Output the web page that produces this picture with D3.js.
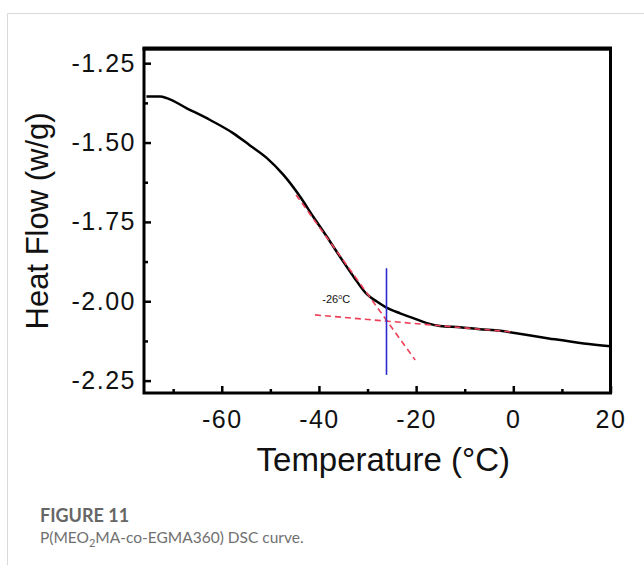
<!DOCTYPE html>
<html>
<head>
  <meta charset="utf-8">
  <title>P(MEO2MA-co-EGMA360) DSC curve</title>
  <style type="text/css">
    body { margin: 0; background: #fff; }
    .tick text { font-family: "Liberation Sans", Arial, sans-serif; letter-spacing: 1.5px; }
    .caption { font-family: Lato, "Open Sans", sans-serif; }
  </style>
</head>
<body>
  <svg width="644" height="565"></svg>
  <script src="https://d3js.org/d3.v7.min.js"></script>
  <script>
    // data
    var temp = [-75.5, -72.7, -71.3, -67.2, -62.4, -57.6, -54.2, -50.7, -47.3, -43.9, -41.2, -38.4, -35.7,
      -32.9, -30.2, -28.1, -26.2, -23.3, -20.6, -17.8, -15.1, -11.0, -6.9, -2.7, 0.3, 7.3, 14.5, 20];
    var heatFlow = [-1.355, -1.355, -1.360, -1.392, -1.429, -1.471, -1.509, -1.549, -1.602, -1.670, -1.733,
      -1.796, -1.859, -1.922, -1.977, -2.001, -2.019, -2.038, -2.053, -2.069, -2.078, -2.082, -2.088,
      -2.093, -2.100, -2.117, -2.133, -2.142];
    var xTicks = [-60, -40, -20, 0, 20];
    var xMinor = [-70, -50, -30, -10, 10];
    var yTicks = [-1.25, -1.50, -1.75, -2.00, -2.25];
    var yMinor = [-1.375, -1.625, -1.875, -2.125];
    // tangent construction lines (temperature, heat flow)
    var tangentFlat = [[-40.8, -2.043], [0, -2.097]];
    var tangentSteep = [[-44.7, -1.665], [-20.2, -2.185]];
    var tgLine = [[-26.1, -1.896], [-26.1, -2.232]];
    var tgLabel = "-26";

    var svg = d3.select("svg");

    // 1. card frame
    svg.append("path")
      .attr("d", "M7.5,565 V13.5 H644")
      .attr("fill", "none")
      .attr("stroke", "#d9d9d9")
      .attr("stroke-width", 1);

    // 2. scales
    var x = d3.scaleLinear().domain([-76, 20]).range([144, 610.5]);
    var y = d3.scaleLinear().domain([-1.205, -2.289]).range([48.9, 393]);

    var plotL = x(-76), plotR = x(20), plotT = y(-1.205), plotB = y(-2.289);

    // 3. axes (ticks point inside)
    svg.append("g")
      .attr("transform", "translate(0," + plotB + ")")
      .call(d3.axisBottom(x).tickValues(xTicks).tickSize(-7).tickPadding(17)
        .tickFormat(function (d) { return String(d); }));
    svg.append("g")
      .attr("transform", "translate(0," + plotB + ")")
      .call(d3.axisBottom(x).tickValues(xMinor).tickSize(-4).tickFormat(""));

    svg.append("g")
      .attr("transform", "translate(" + plotL + ",0)")
      .call(d3.axisLeft(y).tickValues(yTicks).tickSize(-7).tickPadding(8)
        .tickFormat(function (d) { return d.toFixed(2); }));
    svg.append("g")
      .attr("transform", "translate(" + plotL + ",0)")
      .call(d3.axisLeft(y).tickValues(yMinor).tickSize(-4).tickFormat(""));

    svg.selectAll(".domain").remove();
    svg.selectAll(".tick line").attr("stroke", "#000").attr("stroke-width", 2.5);
    svg.selectAll(".tick text").attr("font-size", 25).attr("fill", "#111");

    // 4. plot frame
    svg.append("rect")
      .attr("x", plotL).attr("y", plotT)
      .attr("width", plotR - plotL).attr("height", plotB - plotT)
      .attr("fill", "none")
      .attr("stroke", "#000")
      .attr("stroke-width", 3);
    svg.append("line")
      .attr("x1", plotL - 1.5).attr("x2", plotR + 1.5)
      .attr("y1", plotT - 0.5).attr("y2", plotT - 0.5)
      .attr("stroke", "#000").attr("stroke-width", 4);

    // 5. curve
    var pts = temp.map(function (t, i) { return [t, heatFlow[i]]; });
    var line = d3.line()
      .x(function (d) { return x(d[0]); })
      .y(function (d) { return y(d[1]); })
      .curve(d3.curveMonotoneX);

    svg.append("path")
      .datum(pts)
      .attr("d", line)
      .attr("fill", "none")
      .attr("stroke", "#000")
      .attr("stroke-width", 2.5);

    // 6. tangent lines and Tg marker
    var straight = d3.line()
      .x(function (d) { return x(d[0]); })
      .y(function (d) { return y(d[1]); });

    [tangentFlat, tangentSteep].forEach(function (seg) {
      svg.append("path")
        .attr("d", straight(seg))
        .attr("fill", "none")
        .attr("stroke", "#ee3f58")
        .attr("stroke-width", 1.6)
        .attr("stroke-dasharray", "6,4");
    });

    svg.append("path")
      .attr("d", straight(tgLine))
      .attr("stroke", "#2a2ad0")
      .attr("stroke-width", 1.6);

    var lbl = svg.append("text")
      .attr("x", x(-39.3))
      .attr("y", y(-2.005))
      .attr("font-family", "Liberation Sans, Arial, sans-serif")
      .attr("font-size", 11)
      .attr("fill", "#111")
      .text(tgLabel);
    lbl.append("tspan").attr("dy", -4).attr("font-size", 7).text("o");
    lbl.append("tspan").attr("dy", 4).text("C");

    // 7. axis titles
    svg.append("text")
      .attr("transform", "translate(48," + ((plotT + plotB) / 2) + ") rotate(-90)")
      .attr("text-anchor", "middle")
      .attr("font-family", "Liberation Sans, Arial, sans-serif")
      .attr("font-size", 31)
      .attr("fill", "#111")
      .text("Heat Flow (w/g)");

    svg.append("text")
      .attr("x", (plotL + plotR) / 2 + 6)
      .attr("y", 471)
      .attr("text-anchor", "middle")
      .attr("font-family", "Liberation Sans, Arial, sans-serif")
      .attr("font-size", 33)
      .attr("fill", "#111")
      .text("Temperature (°C)");

    // 8. caption
    svg.append("text")
      .attr("class", "caption")
      .attr("x", 40).attr("y", 522)
      .attr("font-size", 18)
      .attr("font-weight", "bold")
      .attr("fill", "#666")
      .text("FIGURE 11");
    var cap = svg.append("text")
      .attr("class", "caption")
      .attr("x", 40).attr("y", 543)
      .attr("font-size", 15.5)
      .attr("fill", "#707070");
    cap.append("tspan").text("P(MEO");
    cap.append("tspan").attr("dy", 4).attr("font-size", 11).text("2");
    cap.append("tspan").attr("dy", -4).text("MA-co-EGMA360) DSC curve.");
  </script>
</body>
</html>
